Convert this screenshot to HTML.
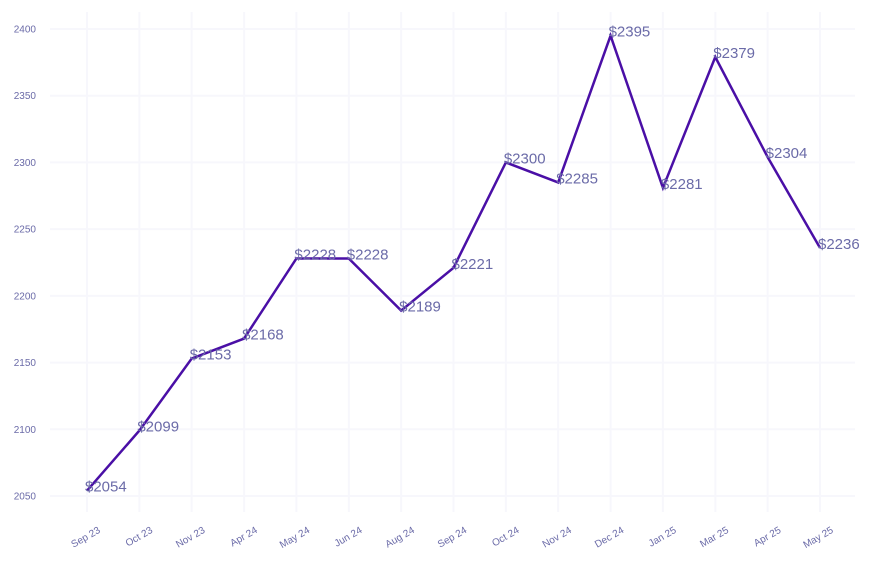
<!DOCTYPE html>
<html><head><meta charset="utf-8"><style>
body{margin:0;background:#fff;}
svg{display:block;font-family:"Liberation Sans",Arial,sans-serif;}
</style></head><body>
<svg id="chart" width="873" height="565" viewBox="0 0 873 565">
<g id="grid"></g>
<g id="yaxis"></g>
<g id="xaxis"></g>
<g id="series"></g>
</svg>
<script>
const categories=["Sep 23","Oct 23","Nov 23","Apr 24","May 24","Jun 24","Aug 24","Sep 24","Oct 24","Nov 24","Dec 24","Jan 25","Mar 25","Apr 25","May 25"];
const values=[2054,2099,2153,2168,2228,2228,2189,2221,2300,2285,2395,2281,2379,2304,2236];
const yTicks=[2050,2100,2150,2200,2250,2300,2350,2400];
const NS="http://www.w3.org/2000/svg";
const x0=87,x1=820,yBase=2050,yTop=2400,py0=496,py1=29;
function xs(i){return x0+i*(x1-x0)/(categories.length-1);}
function ys(v){return py0+(v-yBase)*(py1-py0)/(yTop-yBase);}
function mk(tag,attrs,parent){const e=document.createElementNS(NS,tag);for(const k in attrs)e.setAttribute(k,attrs[k]);parent.appendChild(e);return e;}
const grid=document.getElementById('grid'),ya=document.getElementById('yaxis'),xa=document.getElementById('xaxis'),se=document.getElementById('series');
yTicks.forEach(t=>{
  const l=mk('line',{x1:50,x2:855,y1:ys(t),y2:ys(t),stroke:'#f7f7fc','stroke-width':2},grid);
  
  
  const tx=mk('text',{x:36,y:ys(t)+3.5,'text-anchor':'end','font-size':10,fill:'#6b6ba8'},ya);
  tx.textContent=t;
  
  
});
categories.forEach((c,i)=>{
  const l=mk('line',{x1:xs(i),x2:xs(i),y1:12,y2:512,stroke:'#f7f7fc','stroke-width':2},grid);
  
  
  const tx=mk('text',{x:xs(i)+14,y:532,'text-anchor':'end','font-size':10,fill:'#6b6ba8',transform:`rotate(-30 ${xs(i)+14} 532)`},xa);
  tx.textContent=c;
  
  
});
const pts=values.map((v,i)=>xs(i)+','+ys(v)).join(' ');
const pl=mk('polyline',{points:pts,fill:'none',stroke:'#4a0fa6','stroke-width':2.5,'stroke-linejoin':'miter'},se);


values.forEach((v,i)=>{
  const tx=mk('text',{x:xs(i)-2,y:ys(v)+1,'font-size':15,fill:'#6b6ba8'},se);
  tx.textContent='$'+v;
  
  
});
</script>
</body></html>
